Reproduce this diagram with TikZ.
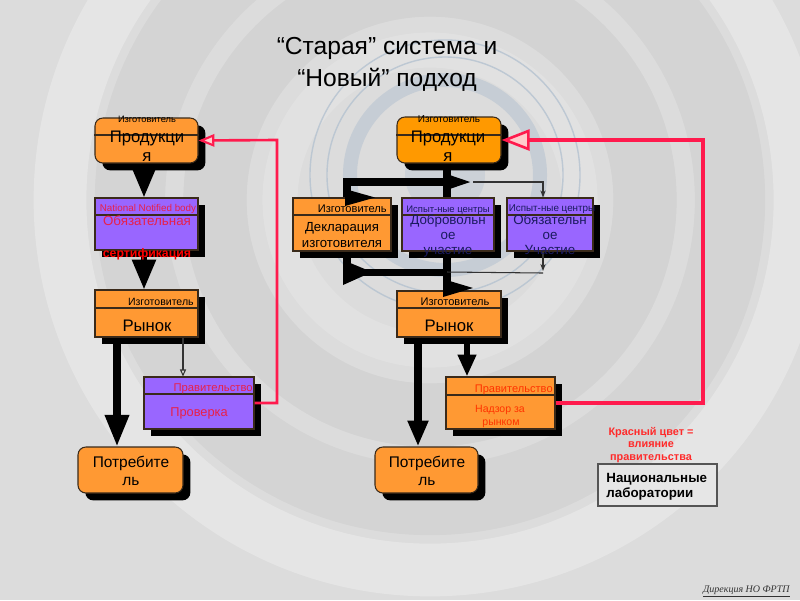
\documentclass[tikz,border=0pt]{standalone}
\usepackage{fontspec}
\setmainfont{Liberation Sans}
\newfontfamily\serifit{Liberation Serif}
\usetikzlibrary{arrows.meta,shadows,fit}

\definecolor{bgbase}{HTML}{DCDCDC}
\definecolor{orangebox}{HTML}{FF9933}
\definecolor{orangetop}{HTML}{FF9900}
\definecolor{purplebox}{HTML}{9966FF}
\definecolor{boxline}{HTML}{3A2A1A}
\definecolor{redline}{HTML}{FF1A4D}
\definecolor{pinkred}{HTML}{E8204A}
\definecolor{certred}{HTML}{FF0000}
\definecolor{govred}{HTML}{FF3300}
\definecolor{navy}{HTML}{1A1A5E}
\definecolor{legred}{HTML}{FF2A2A}
\definecolor{labfill}{HTML}{E6E6E6}
\definecolor{labline}{HTML}{555555}
\definecolor{ringblue}{HTML}{B4C2D0}
\definecolor{thinline}{HTML}{333333}
\definecolor{footgray}{HTML}{333333}

\begin{document}
\begin{tikzpicture}[x=0.02cm,y=-0.02cm,
  shad/.style={drop shadow={shadow xshift=4.2pt,shadow yshift=-4.2pt,opacity=1,fill=black}},
  sbox/.style={draw=boxline, line width=0.6pt, inner sep=0pt, shad},
  obox/.style={sbox, fill=orangebox},
  pbox/.style={sbox, fill=purplebox},
  rbox/.style={obox, rounded corners=4.5pt},
  divline/.style={draw=boxline, line width=0.6pt},
  txt/.style={inner sep=0pt, anchor=base},
  fs/.style={font=\fontsize{#1}{#1}\selectfont},
  fsb/.style={font=\fontsize{#1}{#1}\selectfont\bfseries},
  redconn/.style={draw=redline, line width=1.5pt},
  thinconn/.style={draw=thinline, line width=0.6pt},
]
\useasboundingbox (0,0) rectangle (800,600);

% ---------- background ----------
\begin{scope}
\clip (0,0) rectangle (800,600);
\fill[bgbase] (0,0) rectangle (800,600);
\draw[white, opacity=0.28, line width=30pt] (430,200) circle[radius=370];
\draw[black, opacity=0.035, line width=40pt] (430,200) circle[radius=300];
\draw[black, opacity=0.04, line width=36pt] (430,200) circle[radius=215];
\draw[white, opacity=0.15, line width=20pt] (430,200) circle[radius=150];
\draw[ringblue, opacity=0.55, line width=8pt] (445,175) circle[radius=95];
\draw[ringblue, opacity=0.8, line width=0.8pt] (445,175) circle[radius=118];
\draw[ringblue, opacity=0.8, line width=0.8pt] (445,175) circle[radius=135];
\fill[ringblue, opacity=0.4] (445,175) circle[radius=40];
\end{scope}

% ---------- title ----------
\node[txt, fs=14pt] (title1) at (387,54) {“Старая” система и};
\node[txt, fs=14pt] (title2) at (387,86) {“Новый” подход};

% ---------- left column boxes ----------
\node[rbox, fit={(95,118) (198,163)}] (prodL) {};
\draw[divline] (prodL.west |- 0,135) -- (prodL.east |- 0,135);
\node[pbox, fit={(95,198) (198,250)}] (cert) {};
\draw[divline] (cert.west |- 0,215) -- (cert.east |- 0,215);
\node[obox, fit={(95,290) (198,337)}] (marketL) {};
\draw[divline] (marketL.west |- 0,308) -- (marketL.east |- 0,308);
\node[pbox, fit={(144,377) (254,429)}] (check) {};
\draw[divline] (check.west |- 0,394) -- (check.east |- 0,394);
\node[rbox, fit={(78,447) (183,493)}] (consL) {};

% ---------- right column boxes ----------
\node[rbox, fill=orangetop, fit={(397,117) (501,163)}] (prodR) {};
\draw[divline] (prodR.west |- 0,135) -- (prodR.east |- 0,135);
\node[obox, fit={(293,198) (391,251)}] (decl) {};
\draw[divline] (decl.west |- 0,215) -- (decl.east |- 0,215);
\node[pbox, fit={(402,198) (494,251)}] (volun) {};
\draw[divline] (volun.west |- 0,215) -- (volun.east |- 0,215);
\node[pbox, fit={(507,198) (593,251)}] (mand) {};
\draw[divline] (mand.west |- 0,215) -- (mand.east |- 0,215);
\node[obox, fit={(397,291) (501,337)}] (marketR) {};
\draw[divline] (marketR.west |- 0,308) -- (marketR.east |- 0,308);
\node[obox, fit={(446,377) (555,429)}] (superv) {};
\draw[divline] (superv.west |- 0,395) -- (superv.east |- 0,395);
\node[rbox, fit={(375,447) (478,493)}] (consR) {};

% ---------- left connectors ----------
\draw[line width=3.4pt, -{Triangle[length=17pt,width=13pt]}] (prodL.south -| 144,0) -- (cert.north -| 144,0);
\draw[line width=3.4pt, -{Triangle[length=17pt,width=13pt]}] (cert.south -| 144,0) -- (marketL.north -| 144,0);
\draw[line width=4pt, -{Triangle[length=18pt,width=13pt]}] (marketL.south -| 117,0) -- (consL.north -| 117,0);
\draw[thinconn, -{Triangle[open,length=4pt,width=3.5pt]}] (marketL.south -| 183,0) -- (check.north -| 183,0);
\draw[redconn, -{Triangle[fill=white!80!red,length=9pt,width=7pt,line width=1.2pt]}]
  (check.east) -- (277,403) -- (277,140) -- (prodL.east);

% ---------- right connectors ----------
\coordinate (jTop) at (447,182);
\coordinate (jTopL) at (347,182);
\coordinate (jBot) at (447,272);
\coordinate (jBotL) at (347,272);
\draw[line width=4pt] (prodR.south -| 447,0) -- (volun.north -| 447,0);
\draw[line width=4pt] (jTopL) -- (decl.north -| 347,0);
\draw[line width=4pt, -{Triangle[length=17pt,width=9pt]}] ([xshift=-2pt]jTopL) -- (473,182);
\fill (345,189) -- (375,197.5) -- (345,206) -- cycle;
\draw[thinconn, -{Stealth[length=4pt,width=3pt]}] (473,182) -- (543,182) -- (mand.north -| 543,0);
\draw[line width=4pt] (decl.south -| 347,0) -- (jBotL);
\draw[line width=4pt] ([xshift=-2pt]jBotL) -- (jBot);
\draw[line width=4pt] (volun.south -| 447,0) -- (marketR.north -| 447,0);
\fill (343,260) -- (372,272) -- (343,285) -- cycle;
\fill (443,279) -- (473,288) -- (443,297) -- cycle;
\fill (441,254) -- (453,254) -- (447,265) -- cycle;
\draw[thinconn, -{Stealth[length=4pt,width=3pt]}] (mand.south -| 543,0) -- (543,271);
\draw[thinconn] (543,273) -- (jBot);
\draw[line width=4pt, -{Triangle[length=14.7pt,width=11pt]}] (marketR.south -| 418,0) -- (consR.north -| 418,0);
\draw[line width=3.4pt, -{Triangle[length=12.5pt,width=10pt]}] (marketR.south -| 467,0) -- (superv.north -| 467,0);
\draw[redconn, line width=2.3pt, -{Triangle[fill=white!80!red,length=16pt,width=12pt,line width=1.5pt]}]
  (superv.east) -- (703,403) -- (703,140) -- (prodR.east);

% ---------- left texts ----------
\node[txt, fs=5.3pt] (tL1) at (147,122) {Изготовитель};
\node[txt, fs=9.5pt] (tL2) at (147,142) {Продукци};
\node[txt, fs=9.5pt] (tL3) at (147,161) {я};
\node[txt, fs=5.6pt, text=pinkred] (tL4) at (148,211) {National Notified body};
\node[txt, fs=7.6pt, text=pinkred] (tL5) at (147,225) {Обязательная};
\node[txt, fsb=7pt, text=certred] (tL6) at (147,257) {сертификация};
\node[txt, fs=6pt, anchor=base east] (tL7) at (194,305) {Изготовитель};
\node[txt, fs=9.5pt] (tL8) at (147,331) {Рынок};
\node[txt, fs=6.4pt, anchor=base east, text=pinkred] (tL9) at (253,391) {Правительство};
\node[txt, fs=7.3pt, text=pinkred] (tL10) at (199,416) {Проверка};
\node[txt, fs=8.8pt] (tL11) at (131,467) {Потребите};
\node[txt, fs=8.8pt] (tL12) at (131,485) {ль};

% ---------- right texts ----------
\node[txt, fs=5.7pt] (tR1) at (449,122) {Изготовитель};
\node[txt, fs=9.5pt] (tR2) at (448,142) {Продукци};
\node[txt, fs=9.5pt] (tR3) at (448,161) {я};
\node[txt, fs=6.3pt, anchor=base east] (tR4) at (387,212) {Изготовитель};
\node[txt, fs=7.5pt] (tR5) at (342,231) {Декларация};
\node[txt, fs=7.5pt] (tR6) at (342,247) {изготовителя};
\node[txt, fs=5.4pt, text=navy] (tR7) at (448,212) {Испыт-ные центры};
\node[txt, fs=7.6pt, text=navy] (tR8) at (448,224) {Добровольн};
\node[txt, fs=7.6pt, text=navy] (tR9) at (448,239) {ое};
\node[txt, fs=7.6pt, text=navy] (tR10) at (448,254) {участие};
\node[txt, fs=5.6pt, text=navy] (tR11) at (552,211) {Испыт-ные центры};
\node[txt, fs=7.6pt, text=navy] (tR12) at (550,224) {Обязательн};
\node[txt, fs=7.6pt, text=navy] (tR13) at (550,239) {ое};
\node[txt, fs=7.6pt, text=navy] (tR14) at (550,254) {Участие};
\node[txt, fs=6.3pt] (tR15) at (455,305) {Изготовитель};
\node[txt, fs=9.5pt] (tR16) at (449,331) {Рынок};
\node[txt, fs=6.3pt, anchor=base east, text=govred] (tR17) at (553,392) {Правительство};
\node[txt, fs=6pt, text=govred] (tR18) at (500,412) {Надзор за};
\node[txt, fs=6pt, text=govred] (tR19) at (501,425) {рынком};
\node[txt, fs=8.8pt] (tR20) at (427,467) {Потребите};
\node[txt, fs=8.8pt] (tR21) at (427,485) {ль};

% ---------- legend ----------
\node[txt, fsb=6.2pt, text=legred] (leg1) at (651,435) {Красный цвет =};
\node[txt, fsb=6.2pt, text=legred] (leg2) at (651,447) {влияние};
\node[txt, fsb=6.2pt, text=legred] (leg3) at (651,460) {правительства};
\node[draw=labline, fill=labfill, line width=1.2pt, inner sep=0pt, fit={(598,464) (717,506)}] (labs) {};
\node[txt, fsb=7.6pt, anchor=base west] (lab1) at (606,482) {Национальные};
\node[txt, fsb=7.6pt, anchor=base west] (lab2) at (606,497) {лаборатории};

% ---------- footer ----------
\node[txt, anchor=base east, text=footgray, font=\serifit\itshape\fontsize{5.7pt}{6pt}\selectfont] (foot) at (790,592) {\underline{Дирекция НО ФРТП}};
\end{tikzpicture}
\end{document}
